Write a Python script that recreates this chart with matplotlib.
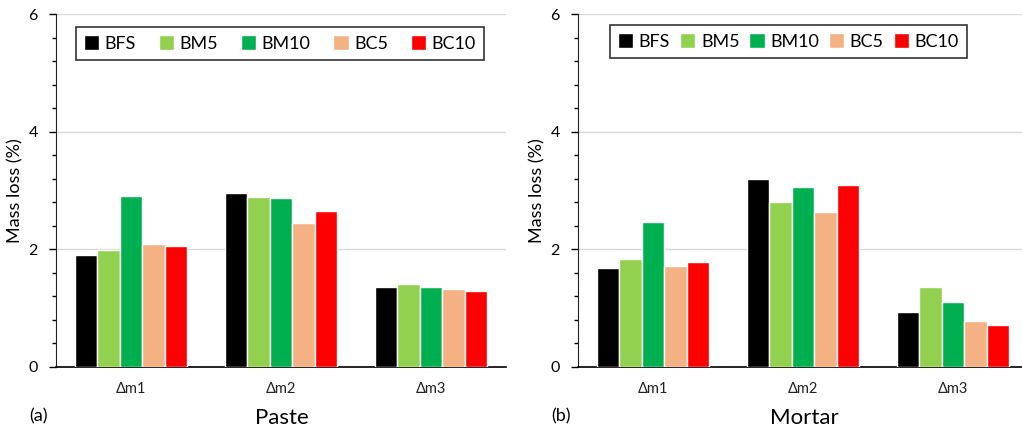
import matplotlib
matplotlib.use("Agg")
import matplotlib.pyplot as plt
from matplotlib.ticker import MultipleLocator
import numpy as np

plt.rcParams['font.family'] = ['Lato', 'DejaVu Sans']

categories = ["Δm1", "Δm2", "Δm3"]
series = ["BFS", "BM5", "BM10", "BC5", "BC10"]
colors = ["#000000", "#92d050", "#00b050", "#f4b183", "#ff0000"]

paste_BFS = [1.90, 2.95, 1.36]
paste_BM5 = [1.99, 2.89, 1.41]
paste_BM10 = [2.90, 2.87, 1.36]
paste_BC5 = [2.09, 2.45, 1.33]
paste_BC10 = [2.05, 2.65, 1.30]

mortar_BFS = [1.68, 3.20, 0.93]
mortar_BM5 = [1.84, 2.80, 1.36]
mortar_BM10 = [2.47, 3.06, 1.11]
mortar_BC5 = [1.71, 2.64, 0.79]
mortar_BC10 = [1.79, 3.10, 0.71]

paste = [paste_BFS, paste_BM5, paste_BM10, paste_BC5, paste_BC10]
mortar = [mortar_BFS, mortar_BM5, mortar_BM10, mortar_BC5, mortar_BC10]

fig = plt.figure(figsize=(10.22, 4.32), dpi=100)
W, H = 1022, 432

def make_axes(left_px, data, panel, title, leg_box):
    ax = fig.add_axes([left_px / W, 1 - 367 / H, 450 / W, 353 / H])
    x = np.arange(len(categories))
    bw = 0.15
    for i, (name, vals, c) in enumerate(zip(series, data, colors)):
        ax.bar(x + (i - 2) * bw, vals, bw, color=c, edgecolor='white',
               linewidth=1.0, label=name, zorder=3)
    ax.set_xlim(-0.5, 2.5)
    ax.set_ylim(0, 6)
    ax.yaxis.set_major_locator(MultipleLocator(2))
    ax.yaxis.set_minor_locator(MultipleLocator(0.4))
    ax.grid(axis='y', which='major', color='#d9d9d9', linewidth=1, zorder=0)
    ax.set_xticks(x)
    ax.set_xticklabels(categories, fontsize=10.5, color='#222222')
    ax.tick_params(axis='x', length=0, pad=11)
    ax.tick_params(axis='y', which='major', length=5, width=1, labelsize=11.5, pad=8)
    ax.tick_params(axis='y', which='minor', length=3, width=1)
    for s in ['top', 'right']:
        ax.spines[s].set_visible(False)
    ax.spines['left'].set_color('#222222')
    ax.spines['bottom'].set_color('#000000')
    ax.spines['bottom'].set_linewidth(1.2)
    ax.set_ylabel("Mass loss (%)", fontsize=13, labelpad=4)
    leg = ax.legend(loc='lower left', bbox_to_anchor=leg_box, mode='expand',
                    ncol=5, fontsize=13, frameon=True, fancybox=False,
                    edgecolor='black', handlelength=0.85, handleheight=0.85,
                    handletextpad=0.3, borderpad=0.45, columnspacing=0.8,
                    borderaxespad=0)
    leg.get_frame().set_linewidth(1.2)
    fig.text((left_px + 226) / W, 1 - 418 / H, title, fontsize=16,
             ha='center', va='center')
    fig.text((left_px - 17) / W, 1 - 416 / H, panel, fontsize=13,
             ha='center', va='center')
    return ax

make_axes(56, paste, "(a)", "Paste", (0.044, 0.870, 0.907, 0.102))
make_axes(578, mortar, "(b)", "Mortar", (0.071, 0.876, 0.793, 0.090))

fig.savefig("out.png", dpi=100)
